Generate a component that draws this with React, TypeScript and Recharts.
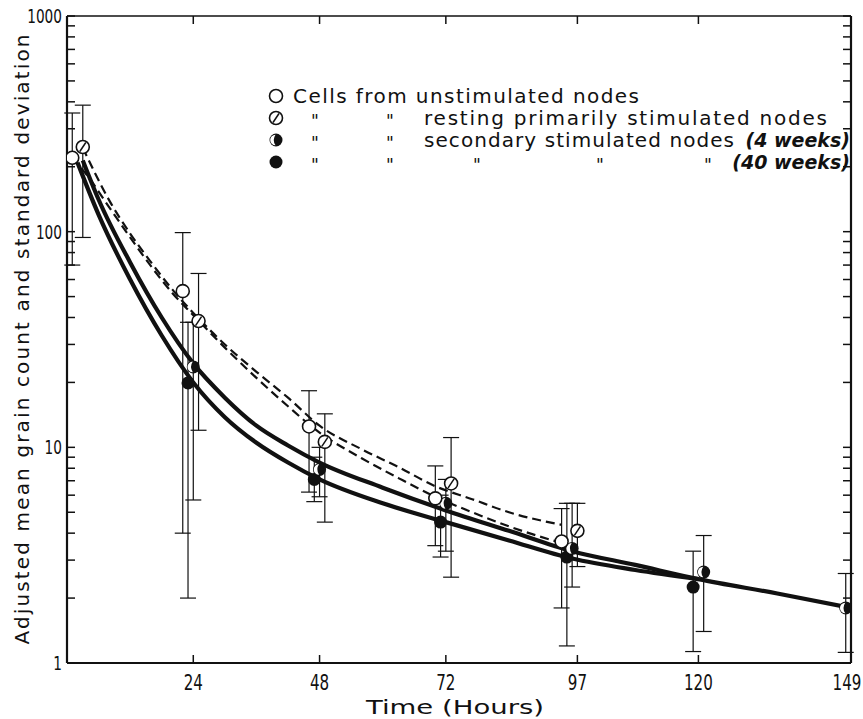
import { ComposedChart, Line, Scatter, ErrorBar, XAxis, YAxis, Legend } from 'recharts';

// time axis ticks (hours) and log grain count ticks
const timeTicks = [24, 48, 72, 97, 120, 149];
const countTicks = [
  1, 2, 3, 4, 5, 6, 7, 8, 9,
  10, 20, 30, 40, 50, 60, 70, 80, 90,
  100, 200, 300, 400, 500, 600, 700, 800, 900,
  1000,
];
const labelledTicks = [1, 10, 100, 1000];

// cells from unstimulated nodes (open circles)
const unstimT = [1, 22, 46, 70, 94];
const unstimV = [220, 53, 12.5, 5.8, 3.66];
const unstimLo = [70, 4.0, 6.2, 3.5, 1.8];
const unstimHi = [355, 99, 18.3, 8.2, 5.2];

// resting primarily stimulated nodes (hatched circles)
const restT = [3, 25, 49, 73, 97];
const restV = [247, 38.5, 10.6, 6.8, 4.1];
const restLo = [94, 12, 4.5, 2.5, 2.8];
const restHi = [386, 64, 14.3, 11.1, 5.5];

// secondary stimulated nodes, 4 weeks (half filled)
const sec4T = [24, 48, 72, 96, 121, 148];
const sec4V = [23.6, 7.9, 5.5, 3.4, 2.64, 1.8];
const sec4Lo = [5.7, 5.9, 3.3, 2.25, 1.4, 1.12];
const sec4Hi = [38, 10, 7.1, 5.5, 3.9, 2.6];

// secondary stimulated nodes, 40 weeks (filled)
const sec40T = [23, 47, 71, 95, 119];
const sec40V = [19.9, 7.1, 4.5, 3.1, 2.25];
const sec40Lo = [2.0, 5.6, 3.1, 1.2, 1.13];
const sec40Hi = [38, 9, 6, 5.5, 3.3];

// fitted curves
const unstimCurveT = [1, 4, 8, 12, 16, 20, 24, 30, 36, 42, 48, 56, 63, 70, 77, 84, 94];
const unstimCurveV = [220, 180, 130, 94, 69, 52, 41, 29, 21, 15.5, 11.7, 8.9, 7.2, 5.9, 5.0, 4.3, 3.6];
const restCurveT = [3, 8, 12, 16, 20, 24, 30, 36, 42, 48, 56, 63, 70, 77, 84, 94];
const restCurveV = [245, 140, 98, 72, 54, 42, 30, 22.4, 17, 12.6, 9.8, 8.1, 6.6, 5.75, 5.0, 4.37];
const sec4CurveT = [3, 6, 12, 18, 24, 30, 36, 42, 48, 60, 72, 84, 96, 108, 120, 135, 149];
const sec4CurveV = [214, 141, 72, 40, 24.5, 17, 12.6, 10.2, 8.5, 6.5, 5.1, 4.1, 3.3, 2.85, 2.45, 2.1, 1.8];
const sec40CurveT = [2, 6, 12, 18, 24, 30, 36, 42, 48, 60, 72, 84, 96, 108, 120];
const sec40CurveV = [209, 120, 60, 33, 20, 13.8, 10.5, 8.5, 7.1, 5.5, 4.5, 3.7, 3.05, 2.7, 2.45];

const points = (t: number[], v: number[], lo: number[], hi: number[]) =>
  t.map((x, i) => ({ t: x, v: v[i], err: [v[i] - lo[i], hi[i] - v[i]] }));
const curve = (t: number[], v: number[]) => t.map((x, i) => ({ t: x, v: v[i] }));

const INK = '#111';
const textFont = "'DejaVu Sans', 'Noto Sans', sans-serif";

function Marker({ kind, cx, cy }: { kind: string; cx: number; cy: number }) {
  const r = 6.5;
  if (kind === 'filled') return <circle cx={cx} cy={cy} r={r} fill={INK} />;
  if (kind === 'half') {
    return (
      <g>
        <circle cx={cx} cy={cy} r={r} fill={INK} />
        <path
          d={`M ${cx - 0.5} ${cy - r + 1.2} A ${r - 1.2} ${r - 1.2} 0 0 0 ${cx - 0.5} ${cy + r - 1.2} Q ${cx - 4} ${cy} ${cx - 0.5} ${cy - r + 1.2} Z`}
          fill="#fff"
        />
      </g>
    );
  }
  return (
    <g>
      <circle cx={cx} cy={cy} r={r} fill="#fff" stroke={INK} strokeWidth={1.6} />
      {kind === 'hatched' && (
        <line x1={cx - 3} y1={cy + 4.5} x2={cx + 3} y2={cy - 4.5} stroke={INK} strokeWidth={1.5} />
      )}
    </g>
  );
}

const shapeOf = (kind: string) => (props: any) => <Marker kind={kind} cx={props.cx} cy={props.cy} />;

// narrow, hand-lettered look for the numbers
const NarrowNum = ({ x, y, anchor, size, children }: any) => (
  <text
    transform={`translate(${x} ${y}) scale(0.72 1)`}
    textAnchor={anchor}
    fontSize={size}
    fontFamily={textFont}
    fill={INK}
  >
    {children}
  </text>
);

const BottomTick = ({ x, y, payload }: any) => (
  <g>
    <line x1={x} x2={x} y1={y} y2={y - 8} stroke={INK} strokeWidth={1.5} />
    <NarrowNum x={payload.value === 149 ? x - 4 : x} y={y + 27} anchor="middle" size={21}>
      {payload.value}
    </NarrowNum>
  </g>
);

const TopTick = ({ x, y }: any) => (
  <line x1={x} x2={x} y1={y} y2={y + 8} stroke={INK} strokeWidth={1.5} />
);

const LeftTick = ({ x, y, payload }: any) => (
  <g>
    <line x1={x} x2={x + 8} y1={y} y2={y} stroke={INK} strokeWidth={1.5} />
    {labelledTicks.includes(payload.value) && (
      <NarrowNum x={x - 5} y={y + 7} anchor="end" size={19}>
        {payload.value}
      </NarrowNum>
    )}
  </g>
);

const RightTick = ({ x, y }: any) => (
  <line x1={x} x2={x - 8} y1={y} y2={y} stroke={INK} strokeWidth={1.5} />
);

const XTitle = ({ viewBox }: any) => (
  <text
    x={viewBox.x + viewBox.width / 2 - 4}
    y={viewBox.y + viewBox.height - 5}
    textAnchor="middle"
    fontSize={19}
    fontFamily={textFont}
    textLength={178}
    lengthAdjust="spacingAndGlyphs"
    fill={INK}
  >
    Time (Hours)
  </text>
);

const YTitle = ({ viewBox }: any) => {
  const cx = 22;
  const cy = viewBox.y + viewBox.height / 2;
  return (
    <text
      x={cx}
      y={cy}
      transform={`rotate(-90 ${cx} ${cy})`}
      textAnchor="middle"
      dominantBaseline="central"
      fontSize={20}
      fontFamily={textFont}
      textLength={610}
      lengthAdjust="spacing"
      fill={INK}
    >
      Adjusted mean grain count and standard deviation
    </text>
  );
};

const legendRows = [
  { kind: 'open', text: 'Cells from unstimulated nodes', tx: 31, len: 346, ditto: [] as number[], note: '' },
  { kind: 'hatched', text: 'resting primarily stimulated nodes', tx: 162, len: 403, ditto: [53, 128], note: '' },
  { kind: 'half', text: 'secondary stimulated nodes', tx: 162, len: 310, ditto: [53, 128], note: '(4 weeks)' },
  { kind: 'filled', text: '', tx: 162, len: 0, ditto: [53, 128, 215, 338, 446], note: '(40 weeks)' },
];

const LegendBox = () => (
  <svg width={600} height={96}>
    {legendRows.map((row, i) => {
      const cy = 14 + i * 22;
      return (
        <g key={i}>
          <Marker kind={row.kind} cx={14} cy={cy} />
          {row.ditto.map((dx) => (
            <text key={dx} x={dx} y={cy + 9} fontSize={17} fontFamily={textFont} fill={INK} textAnchor="middle">
              "
            </text>
          ))}
          {row.text && (
            <text x={row.tx} y={cy + 7} fontSize={20} fontFamily={textFont} fill={INK} textLength={row.len} lengthAdjust="spacing">
              {row.text}
            </text>
          )}
          {row.note && (
            <text
              x={588}
              y={cy + 7}
              fontSize={19}
              fontStyle="italic"
              fontWeight="bold"
              fontFamily={textFont}
              fill={INK}
              textAnchor="end"
            >
              {row.note}
            </text>
          )}
        </g>
      );
    })}
  </svg>
);

export default function App() {
  return (
    <div style={{ position: 'absolute', left: 0, top: 0, background: '#fff' }}>
      <ComposedChart width={863} height={719} margin={{ top: 15, right: 11, bottom: 0, left: 0 }}>
        <XAxis
          dataKey="t"
          type="number"
          domain={[0, 149]}
          allowDataOverflow
          ticks={timeTicks}
          interval={0}
          tickLine={false}
          tickSize={0}
          tickMargin={0}
          height={56}
          axisLine={{ stroke: INK, strokeWidth: 2 }}
          tick={<BottomTick />}
          label={<XTitle />}
        />
        <XAxis
          xAxisId="top"
          orientation="top"
          dataKey="t"
          type="number"
          domain={[0, 149]}
          allowDataOverflow
          ticks={timeTicks}
          interval={0}
          tickLine={false}
          tickSize={0}
          tickMargin={0}
          height={1}
          axisLine={{ stroke: INK, strokeWidth: 1.6 }}
          tick={<TopTick />}
        />
        <YAxis
          type="number"
          scale="log"
          domain={[1, 1000]}
          allowDataOverflow
          ticks={countTicks}
          interval={0}
          tickLine={false}
          tickSize={0}
          tickMargin={0}
          width={67}
          axisLine={{ stroke: INK, strokeWidth: 2.2 }}
          tick={<LeftTick />}
          label={<YTitle />}
        />
        <YAxis
          yAxisId="right"
          orientation="right"
          type="number"
          scale="log"
          domain={[1, 1000]}
          allowDataOverflow
          ticks={countTicks}
          interval={0}
          tickLine={false}
          tickSize={0}
          tickMargin={0}
          width={1}
          axisLine={{ stroke: INK, strokeWidth: 2.2 }}
          tick={<RightTick />}
        />
        <Legend
          layout="vertical"
          align="center"
          verticalAlign="middle"
          wrapperStyle={{ top: 82, left: 262, width: 600, height: 96 }}
          content={<LegendBox />}
        />

        <Line data={curve(unstimCurveT, unstimCurveV)} dataKey="v" type="monotone" stroke={INK} strokeWidth={2.2} strokeDasharray="9 5" dot={false} activeDot={false} isAnimationActive={false} />
        <Line data={curve(restCurveT, restCurveV)} dataKey="v" type="monotone" stroke={INK} strokeWidth={2.2} strokeDasharray="9 5" dot={false} activeDot={false} isAnimationActive={false} />
        <Line data={curve(sec4CurveT, sec4CurveV)} dataKey="v" type="monotone" stroke={INK} strokeWidth={4.2} dot={false} activeDot={false} isAnimationActive={false} />
        <Line data={curve(sec40CurveT, sec40CurveV)} dataKey="v" type="monotone" stroke={INK} strokeWidth={4.2} dot={false} activeDot={false} isAnimationActive={false} />

        <Scatter data={points(sec40T, sec40V, sec40Lo, sec40Hi)} dataKey="v" shape={shapeOf('filled')} isAnimationActive={false}>
          <ErrorBar dataKey="err" direction="y" width={8} stroke={INK} strokeWidth={1.2} />
        </Scatter>
        <Scatter data={points(sec4T, sec4V, sec4Lo, sec4Hi)} dataKey="v" shape={shapeOf('half')} isAnimationActive={false}>
          <ErrorBar dataKey="err" direction="y" width={8} stroke={INK} strokeWidth={1.2} />
        </Scatter>
        <Scatter data={points(restT, restV, restLo, restHi)} dataKey="v" shape={shapeOf('hatched')} isAnimationActive={false}>
          <ErrorBar dataKey="err" direction="y" width={8} stroke={INK} strokeWidth={1.2} />
        </Scatter>
        <Scatter data={points(unstimT, unstimV, unstimLo, unstimHi)} dataKey="v" shape={shapeOf('open')} isAnimationActive={false}>
          <ErrorBar dataKey="err" direction="y" width={8} stroke={INK} strokeWidth={1.2} />
        </Scatter>
      </ComposedChart>
    </div>
  );
}
